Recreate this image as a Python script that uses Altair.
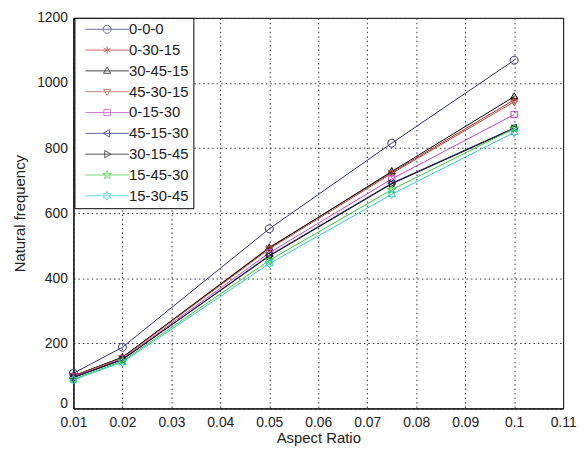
import altair as alt
import pandas as pd
import math

# ---------------- data ----------------
aspect_ratio = [0.01, 0.02, 0.05, 0.075, 0.1]
series_names = ["0-0-0", "0-30-15", "30-45-15", "45-30-15", "0-15-30",
                "45-15-30", "30-15-45", "15-45-30", "15-30-45"]
freq_0_0_0    = [108, 188, 552, 815, 1070]
freq_0_30_15  = [100, 157, 495, 725, 948]
freq_30_45_15 = [100, 157, 493, 728, 958]
freq_45_30_15 = [100, 155, 490, 722, 942]
freq_0_15_30  = [97, 152, 478, 705, 903]
freq_45_15_30 = [95, 150, 470, 692, 862]
freq_30_15_45 = [95, 150, 468, 690, 860]
freq_15_45_30 = [90, 145, 455, 672, 860]
freq_15_30_45 = [88, 142, 445, 658, 848]
x_ticks = [0.01, 0.02, 0.03, 0.04, 0.05, 0.06, 0.07, 0.08, 0.09, 0.1, 0.11]
y_ticks = [0, 200, 400, 600, 800, 1000, 1200]

all_freqs = [freq_0_0_0, freq_0_30_15, freq_30_45_15, freq_45_30_15, freq_0_15_30,
             freq_45_15_30, freq_30_15_45, freq_15_45_30, freq_15_30_45]

colors = ["#2a2f6e", "#b22a2a", "#000000", "#a0503a", "#c040c8",
          "#1c1c70", "#111111", "#30c830", "#30c8c8"]
marker_kinds = ["circle", "asterisk", "tri_up", "tri_down", "square",
                "tri_left", "tri_right", "pentagram", "hexagram"]

rows = []
for name, vals in zip(series_names, all_freqs):
    for xv, yv in zip(aspect_ratio, vals):
        rows.append({"series": name, "ratio": xv, "freq": yv})
df = pd.DataFrame(rows)


# ---------------- marker paths ----------------
def polys(kind):
    if kind == "circle":
        n = 20
        return [[(math.cos(2 * math.pi * k / n), math.sin(2 * math.pi * k / n)) for k in range(n)]], True
    if kind == "asterisk":
        return [[(0, -1), (0, 1)], [(-0.87, -0.5), (0.87, 0.5)], [(-0.87, 0.5), (0.87, -0.5)]], False
    if kind == "tri_up":
        return [[(0, -1), (0.9, 0.6), (-0.9, 0.6)]], True
    if kind == "tri_down":
        return [[(0, 1), (0.9, -0.6), (-0.9, -0.6)]], True
    if kind == "tri_left":
        return [[(-1, 0), (0.6, -0.9), (0.6, 0.9)]], True
    if kind == "tri_right":
        return [[(1, 0), (-0.6, -0.9), (-0.6, 0.9)]], True
    if kind == "square":
        return [[(-0.8, -0.8), (0.8, -0.8), (0.8, 0.8), (-0.8, 0.8)]], True
    if kind == "pentagram":
        pts = []
        for k in range(10):
            r = 1.15 if k % 2 == 0 else 0.45
            a = math.radians(-90 + 36 * k)
            pts.append((r * math.cos(a), r * math.sin(a)))
        return [pts], True
    if kind == "hexagram":
        pts = []
        for k in range(12):
            r = 1.1 if k % 2 == 0 else 0.62
            a = math.radians(-90 + 30 * k)
            pts.append((r * math.cos(a), r * math.sin(a)))
        return [pts], True


def path(kind, dx=0.0, line=None):
    plist, closed = polys(kind)
    s = ""
    if line is not None:
        s += "M%.3f,0L%.3f,0" % line
    for p in plist:
        s += "M%.3f,%.3f" % (p[0][0] + dx, p[0][1])
        for q in p[1:]:
            s += "L%.3f,%.3f" % (q[0] + dx, q[1])
        if closed:
            s += "Z"
    return s


plot_paths = [path(k) for k in marker_kinds]
legend_paths = [path(k, dx=5.375, line=(-0.1, 10.875)) for k in marker_kinds]

FONT = "Liberation Sans"

x_enc = alt.X("ratio:Q", scale=alt.Scale(domain=[0.01, 0.11], nice=False, zero=False),
              axis=alt.Axis(values=x_ticks, format="~g", title="Aspect Ratio",
                            grid=True, ticks=False, labelPadding=7, titlePadding=1,
                            labelFlush=False, labelOverlap=False))
y_enc = alt.Y("freq:Q", scale=alt.Scale(domain=[0, 1200], nice=False),
              axis=alt.Axis(values=y_ticks, format="d", title="Natural frequency",
                            grid=True, ticks=False, labelPadding=6, titlePadding=9,
                            labelFlush=False, labelOverlap=False,
                            labelOffset={"condition": {"test": "datum.value === 0", "value": -5},
                                         "value": 0}))

layers = []
for name, col, pth in zip(series_names, colors, plot_paths):
    base = alt.Chart(df).transform_filter(alt.datum.series == name)
    layers.append(base.mark_line(strokeWidth=1, color=col).encode(x=x_enc, y=y_enc))
    layers.append(base.mark_point(shape=pth, filled=False, size=64, strokeWidth=1,
                                  color=col, opacity=1).encode(x=x_enc, y=y_enc))

legend_cfg = alt.Legend(title=None, orient="none", legendX=1, legendY=0,
                        padding=4, strokeColor="black", fillColor="white",
                        symbolSize=64, symbolStrokeWidth=1, labelOffset=36,
                        labelFont=FONT, labelFontSize=15, labelColor="#222",
                        rowPadding=5, cornerRadius=0)
legend_layer = alt.Chart(df).transform_filter("datum.freq < 0").mark_point(
    filled=False, size=64, strokeWidth=1).encode(
    x=x_enc, y=y_enc,
    color=alt.Color("series:N", scale=alt.Scale(domain=series_names, range=colors),
                    legend=legend_cfg, sort=series_names),
    shape=alt.Shape("series:N", scale=alt.Scale(domain=series_names, range=legend_paths),
                    legend=legend_cfg, sort=series_names),
)
layers.append(legend_layer)

chart = alt.layer(*layers).properties(
    width=494, height=394,
    autosize=alt.AutoSizeParams(type="none"),
    padding={"left": 66, "top": 8, "right": 16, "bottom": 43},
    background="white",
).configure_view(stroke="black", strokeWidth=1).configure_axis(
    labelFont=FONT, labelFontSize=14, labelColor="#222",
    titleFont=FONT, titleFontSize=15, titleFontWeight="normal", titleColor="#222",
    gridColor="#333", gridDash=[1.5, 3], gridOpacity=1, gridWidth=1,
    domainColor="black", domainWidth=1,
)

chart.save("out.html", embed_options={"renderer": "svg", "actions": False})
